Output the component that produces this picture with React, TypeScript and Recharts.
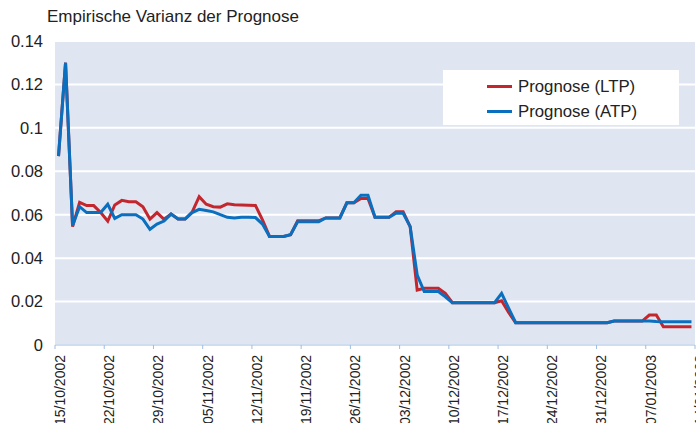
import { CartesianGrid, Legend, Line, LineChart, XAxis, YAxis } from "recharts";

const FONT = '"Liberation Sans", Arial, sans-serif';

// x tick positions (days since 15/10/2002) and their labels
const tickDays = [0, 7, 14, 21, 28, 35, 42, 49, 56, 63, 70, 77, 84, 91];
const tickLabels = [
  "15/10/2002",
  "22/10/2002",
  "29/10/2002",
  "05/11/2002",
  "12/11/2002",
  "19/11/2002",
  "26/11/2002",
  "03/12/2002",
  "10/12/2002",
  "17/12/2002",
  "24/12/2002",
  "31/12/2002",
  "07/01/2003",
  "14/01/2003",
];
const yTicks = [0, 0.02, 0.04, 0.06, 0.08, 0.1, 0.12, 0.14];

const seriesNames = ["Prognose (LTP)", "Prognose (ATP)"];

// one value per day, 15/10/2002 .. 13/01/2003
const ltp = [
  0.087, 0.13, 0.0545, 0.0657, 0.0642, 0.0642, 0.061, 0.057, 0.0645, 0.0666,
  0.066, 0.066, 0.0637, 0.058, 0.061, 0.0579, 0.0603, 0.058, 0.058, 0.0612,
  0.0683, 0.0648, 0.0637, 0.0635, 0.065, 0.0646, 0.0645, 0.0644, 0.0643, 0.0576,
  0.05, 0.05, 0.05, 0.0508, 0.0572, 0.0572, 0.0572, 0.0572, 0.0585, 0.0585,
  0.0585, 0.0655, 0.0655, 0.0675, 0.0675, 0.0588, 0.0588, 0.0588, 0.0614, 0.0614,
  0.0545, 0.0253, 0.0261, 0.0261, 0.0261, 0.0238, 0.0195, 0.0195, 0.0195, 0.0195,
  0.0195, 0.0195, 0.0195, 0.0204, 0.015, 0.0103, 0.0103, 0.0103, 0.0103, 0.0103,
  0.0103, 0.0103, 0.0103, 0.0103, 0.0103, 0.0103, 0.0103, 0.0103, 0.0103, 0.011,
  0.011, 0.011, 0.011, 0.011, 0.0138, 0.0138, 0.0084, 0.0084, 0.0084, 0.0084,
  0.0084,
];
const atp = [
  0.087, 0.13, 0.055, 0.0637, 0.061, 0.061, 0.061, 0.0648, 0.0583, 0.06,
  0.06, 0.06, 0.058, 0.0533, 0.0557, 0.0571, 0.0603, 0.058, 0.058, 0.061,
  0.0625, 0.0619, 0.0613, 0.06, 0.0588, 0.0585, 0.0588, 0.0588, 0.0587, 0.0557,
  0.05, 0.05, 0.05, 0.0508, 0.0568, 0.0568, 0.0568, 0.0568, 0.0585, 0.0585,
  0.0585, 0.0655, 0.0655, 0.069, 0.069, 0.0588, 0.0588, 0.0588, 0.0607, 0.0607,
  0.0545, 0.0322, 0.0246, 0.0246, 0.0246, 0.0222, 0.0195, 0.0195, 0.0195, 0.0195,
  0.0195, 0.0195, 0.0195, 0.0238, 0.017, 0.0103, 0.0103, 0.0103, 0.0103, 0.0103,
  0.0103, 0.0103, 0.0103, 0.0103, 0.0103, 0.0103, 0.0103, 0.0103, 0.0103, 0.011,
  0.011, 0.011, 0.011, 0.011, 0.011, 0.0108, 0.0107, 0.0107, 0.0107, 0.0107,
  0.0107,
];

const RED = "#c4262e";
const BLUE = "#0a6fbe";

// points sit in the middle of each day slot
const data = ltp.map((v, i) => ({ day: i + 0.5, ltp: v, atp: atp[i] }));

const DateTick = ({ x, y, payload }: any) => {
  const label = tickLabels[tickDays.indexOf(payload.value)] ?? "";
  const ax = x + 5;
  const ay = y + 4;
  return (
    <text
      x={ax}
      y={ay}
      dy="0.35em"
      transform={`rotate(-90 ${ax} ${ay})`}
      textAnchor="end"
      fill="#222"
      fontSize={14}
      fontFamily={FONT}
    >
      {label}
    </text>
  );
};

const LegendBox = () => (
  <div
    style={{
      background: "#fff",
      width: 236,
      height: 55,
      boxSizing: "border-box",
      paddingTop: 4,
      paddingLeft: 44,
      fontFamily: FONT,
      fontSize: 16.8,
      color: "#222",
    }}
  >
    {[RED, BLUE].map((c, i) => (
      <div key={i} style={{ display: "flex", alignItems: "center", height: 25 }}>
        <span style={{ display: "inline-block", width: 25, height: 3, background: c, marginRight: 6 }} />
        {seriesNames[i]}
      </div>
    ))}
  </div>
);

export default function App() {
  return (
    <div
      style={{
        position: "absolute",
        left: 0,
        top: 0,
        width: 696,
        height: 423,
        background: "#fff",
        overflow: "hidden",
        fontFamily: FONT,
      }}
    >
      <div style={{ position: "absolute", left: 47, top: 7, fontSize: 17, color: "#222" }}>
        Empirische Varianz der Prognose
      </div>
      <LineChart width={696} height={423} data={data} margin={{ top: 41, right: 1, bottom: 0, left: 0 }}>
        <CartesianGrid vertical={false} stroke="#fff" strokeWidth={2} fill="#dfe6f2" />
        <XAxis
          dataKey="day"
          type="number"
          domain={[0, 91]}
          ticks={tickDays}
          interval={0}
          height={78}
          stroke="#9dbde0"
          tickSize={4}
          tick={<DateTick />}
        />
        <YAxis
          domain={[0, 0.14]}
          ticks={yTicks}
          width={55}
          axisLine={false}
          tickLine={false}
          tickSize={0}
          tickMargin={12}
          tickFormatter={(v) => String(v)}
          tick={{ fill: "#222", fontSize: 16.5, fontFamily: FONT }}
        />
        <Legend
          layout="horizontal"
          verticalAlign="middle"
          align="center"
          wrapperStyle={{ left: 443, top: 70, width: 236 }}
          content={<LegendBox />}
        />
        <Line type="linear" dataKey="ltp" name={seriesNames[0]} stroke={RED} strokeWidth={3} dot={false} isAnimationActive={false} />
        <Line type="linear" dataKey="atp" name={seriesNames[1]} stroke={BLUE} strokeWidth={3} dot={false} isAnimationActive={false} />
      </LineChart>
    </div>
  );
}
